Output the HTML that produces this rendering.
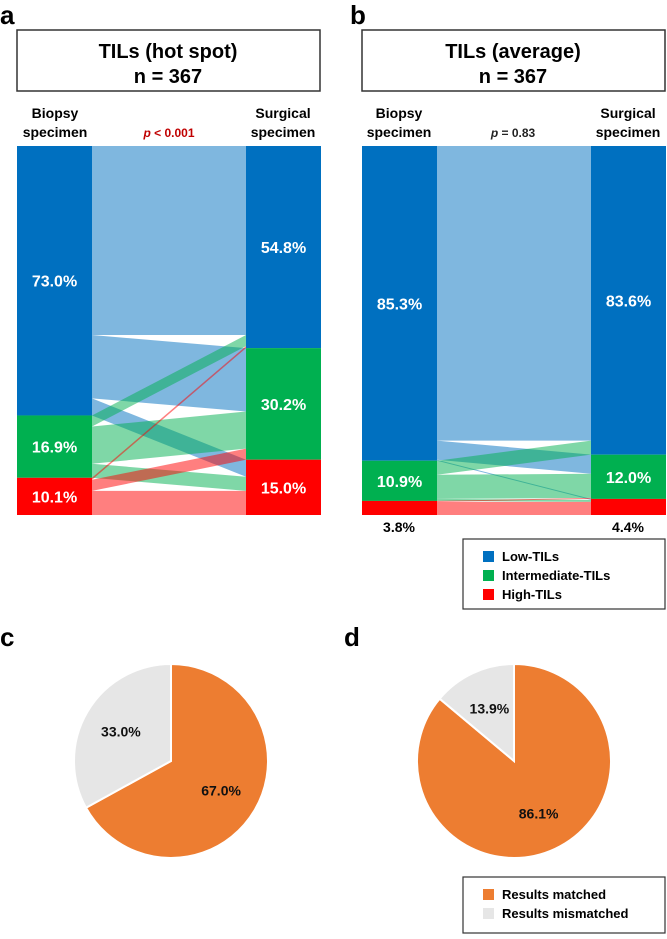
<!DOCTYPE html>
<html><head><meta charset="utf-8">
<style>
body{margin:0;background:#fff;}
svg text{font-family:"Liberation Sans",sans-serif;font-weight:bold;}
</style></head>
<body>
<svg id="fig" width="667" height="934" viewBox="0 0 667 934" xmlns="http://www.w3.org/2000/svg">
<text x="0" y="24" font-size="26">a</text>
<text x="350" y="24" font-size="26">b</text>
<rect x="17" y="30" width="303" height="61" fill="#fff" stroke="#333" stroke-width="1.5"/>
<text x="168" y="58" font-size="20" text-anchor="middle">TILs (hot spot)</text>
<text x="168" y="83" font-size="20" text-anchor="middle">n = 367</text>
<rect x="362" y="30" width="303" height="61" fill="#fff" stroke="#333" stroke-width="1.5"/>
<text x="513" y="58" font-size="20" text-anchor="middle">TILs (average)</text>
<text x="513" y="83" font-size="20" text-anchor="middle">n = 367</text>

<g font-size="14">
<text x="55" y="118" text-anchor="middle">Biopsy</text><text x="55" y="137" text-anchor="middle">specimen</text>
<text x="283" y="118" text-anchor="middle">Surgical</text><text x="283" y="137" text-anchor="middle">specimen</text>
<text x="399" y="118" text-anchor="middle">Biopsy</text><text x="399" y="137" text-anchor="middle">specimen</text>
<text x="628" y="118" text-anchor="middle">Surgical</text><text x="628" y="137" text-anchor="middle">specimen</text>
</g>
<text x="169" y="137" font-size="12" text-anchor="middle" fill="#c00000"><tspan font-style="italic">p</tspan> &lt; 0.001</text>
<text x="513" y="137" font-size="12" text-anchor="middle" fill="#222"><tspan font-style="italic">p</tspan> = 0.83</text>

<g id="sankeyA"></g>
<g id="sankeyB"></g>

<text x="399" y="532" font-size="14" text-anchor="middle">3.8%</text>
<text x="628" y="532" font-size="14" text-anchor="middle">4.4%</text>

<g>
<rect x="463" y="539" width="202" height="70" fill="#fff" stroke="#333" stroke-width="1.2"/>
<rect x="483" y="551" width="11" height="11" fill="#0070c0"/><text x="502" y="561" font-size="13">Low-TILs</text>
<rect x="483" y="570" width="11" height="11" fill="#00b050"/><text x="502" y="580" font-size="13">Intermediate-TILs</text>
<rect x="483" y="589" width="11" height="11" fill="#ff0000"/><text x="502" y="599" font-size="13">High-TILs</text>
</g>

<text x="0" y="646" font-size="26">c</text>
<text x="344" y="646" font-size="26">d</text>
<g id="pieC"></g>
<g id="pieD"></g>

<g>
<rect x="463" y="877" width="202" height="56" fill="#fff" stroke="#333" stroke-width="1.2"/>
<rect x="483" y="889" width="11" height="11" fill="#ed7d31"/><text x="502" y="899" font-size="13">Results matched</text>
<rect x="483" y="908" width="11" height="11" fill="#e6e6e6"/><text x="502" y="918" font-size="13">Results mismatched</text>
</g>
</svg>
<script>
const categories=["Low","Intermediate","High"];
const colors=["#0070c0","#00b050","#ff0000"];
// flows[source][target] counts (biopsy -> surgical)
const flowsA=[[188,63,17],[11,37,14],[2,11,24]];
const flowsB=[[293,19,1],[14,24,2],[0,1,13]];
const biopsyLabelsA=["73.0%","16.9%","10.1%"];
const surgicalLabelsA=["54.8%","30.2%","15.0%"];
const biopsyLabelsB=["85.3%","10.9%",""];
const surgicalLabelsB=["83.6%","12.0%",""];
const pieValuesC=[67.0,33.0];
const pieValuesD=[86.1,13.9];
const pieLabelsC=["67.0%","33.0%"];
const pieLabelsD=["86.1%","13.9%"];
const pieColors=["#ed7d31","#e6e6e6"];
const NS="http://www.w3.org/2000/svg";
function mk(tag,attrs,parent){const e=document.createElementNS(NS,tag);for(const k in attrs)e.setAttribute(k,attrs[k]);parent.appendChild(e);return e;}
function sankey(g,flows,x0,x1,bl,sl,name){
  const top=146,bottom=515,w=75;
  let total=0;flows.forEach(r=>r.forEach(v=>total+=v));
  const y=v=>v*(bottom-top)/total;
  const srcTot=flows.map(r=>r.reduce((a,b)=>a+b,0));
  const tgtTot=[0,1,2].map(j=>flows.reduce((a,r)=>a+r[j],0));
  // source offsets
  const srcStart=[],tgtStart=[];let acc=top;
  srcTot.forEach((t,i)=>{srcStart[i]=acc;acc+=y(t);});
  acc=top;tgtTot.forEach((t,j)=>{tgtStart[j]=acc;acc+=y(t);});
  const sOff=srcStart.slice(),tOff=tgtStart.slice();
  const ribbons=[];
  for(let i=0;i<3;i++)for(let j=0;j<3;j++){
    const h=y(flows[i][j]);
    ribbons.push({i,j,ys:sOff[i],yt:0,h});sOff[i]+=h;
  }
  for(let j=0;j<3;j++)for(let i=0;i<3;i++){
    const r=ribbons.find(r=>r.i===i&&r.j===j);r.yt=tOff[j];tOff[j]+=r.h;
  }
  ribbons.forEach(r=>{
    if(r.h<=0)return;
    const p=mk('polygon',{points:`${x0+w},${r.ys} ${x1},${r.yt} ${x1},${r.yt+r.h} ${x0+w},${r.ys+r.h}`,fill:colors[r.i],'fill-opacity':0.5},g);
    
    
  });
  for(let i=0;i<3;i++){
    const b=mk('rect',{x:x0,y:srcStart[i],width:w,height:y(srcTot[i]),fill:colors[i]},g);
    
    
    const s=mk('rect',{x:x1,y:tgtStart[i],width:w,height:y(tgtTot[i]),fill:colors[i]},g);
    
    
    if(bl[i]){const t=mk('text',{x:x0+w/2,y:srcStart[i]+y(srcTot[i])/2+6,'font-size':16,fill:'#fff','text-anchor':'middle'},g);t.textContent=bl[i];
      
      }
    if(sl[i]){const t=mk('text',{x:x1+w/2,y:tgtStart[i]+y(tgtTot[i])/2+6,'font-size':16,fill:'#fff','text-anchor':'middle'},g);t.textContent=sl[i];
      
      }
  }
}
sankey(document.getElementById('sankeyA'),flowsA,17,246,biopsyLabelsA,surgicalLabelsA,'a');
sankey(document.getElementById('sankeyB'),flowsB,362,591,biopsyLabelsB,surgicalLabelsB,'b');
function pie(g,vals,labels,cx,cy,r,name){
  const tot=vals.reduce((a,b)=>a+b,0);let a0=-Math.PI/2;
  vals.forEach((v,k)=>{
    const a1=a0+v/tot*2*Math.PI;
    const large=(a1-a0)>Math.PI?1:0;
    const d=`M${cx},${cy} L${cx+r*Math.cos(a0)},${cy+r*Math.sin(a0)} A${r},${r} 0 ${large} 1 ${cx+r*Math.cos(a1)},${cy+r*Math.sin(a1)} Z`;
    const p=mk('path',{d,fill:pieColors[k],stroke:'#fff','stroke-width':2},g);
    
    
    const am=(a0+a1)/2,lr=r*0.6;
    const t=mk('text',{x:cx+lr*Math.cos(am),y:cy+lr*Math.sin(am)+5,'font-size':14,'text-anchor':'middle',fill:'#111'},g);
    t.textContent=labels[k];
    
    
    a0=a1;
  });
}
pie(document.getElementById('pieC'),pieValuesC,pieLabelsC,171,761,97,'c');
pie(document.getElementById('pieD'),pieValuesD,pieLabelsD,514,761,97,'d');
</script>
</body></html>
